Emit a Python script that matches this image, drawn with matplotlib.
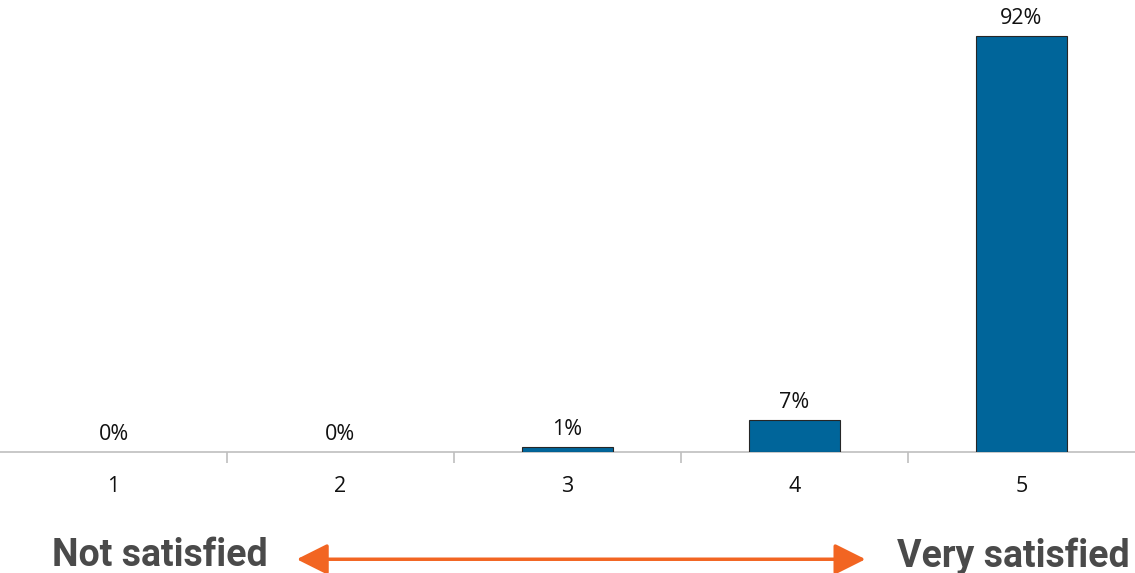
import matplotlib.pyplot as plt
from matplotlib.patches import FancyArrowPatch
import numpy as np

categories = ['1', '2', '3', '4', '5']
values = [0, 0, 1, 7, 92]
labels = ['0%', '0%', '1%', '7%', '92%']

fig = plt.figure(figsize=(11.35, 5.73), dpi=100)
ax = fig.add_axes([0, 0.2112, 1, 0.7888])

x = np.arange(len(categories))
lw = [0.8 if v > 0 else 0 for v in values]
ax.bar(x, values, width=0.4, color='#00659a', edgecolor='#262626', linewidth=lw, zorder=3)
for xi, v, lab in zip(x, values, labels):
    ax.text(xi, v + 1.6, lab, ha='center', va='bottom', fontsize=15.5, family='Open Sans', color='#111111')

ax.set_xlim(-0.5, len(categories) - 0.5)
ax.set_ylim(0, 100)
ax.set_yticks([])
for s in ['top', 'left', 'right']:
    ax.spines[s].set_visible(False)
ax.spines['bottom'].set_color('#bfbfbf')
ax.spines['bottom'].set_linewidth(1.2)

# category labels without tick marks, separator ticks between categories
ax.set_xticks(x)
ax.set_xticklabels(categories, family='Open Sans', fontsize=15.5, color='#111111')
ax.tick_params(axis='x', which='major', length=0, pad=17)
ax.set_xticks(x[:-1] + 0.5, minor=True)
ax.tick_params(axis='x', which='minor', length=8, color='#bfbfbf', width=1.2)

# bottom annotation
fig.text(0.046, 0.03, 'Not satisfied', ha='left', va='center', fontsize=27,
         family='Roboto', weight='bold', color='#4a4a4a')
fig.text(0.995, 0.03, 'Very satisfied', ha='right', va='center', fontsize=27,
         family='Roboto', weight='bold', color='#4a4a4a')
fig.patches.append(FancyArrowPatch(
    (0.259, 0.024), (0.765, 0.024), transform=fig.transFigure,
    arrowstyle='<|-|>,head_length=19,head_width=9.5', mutation_scale=1,
    color='#f26522', linewidth=2.5))

fig.savefig('out.png', dpi=100)
